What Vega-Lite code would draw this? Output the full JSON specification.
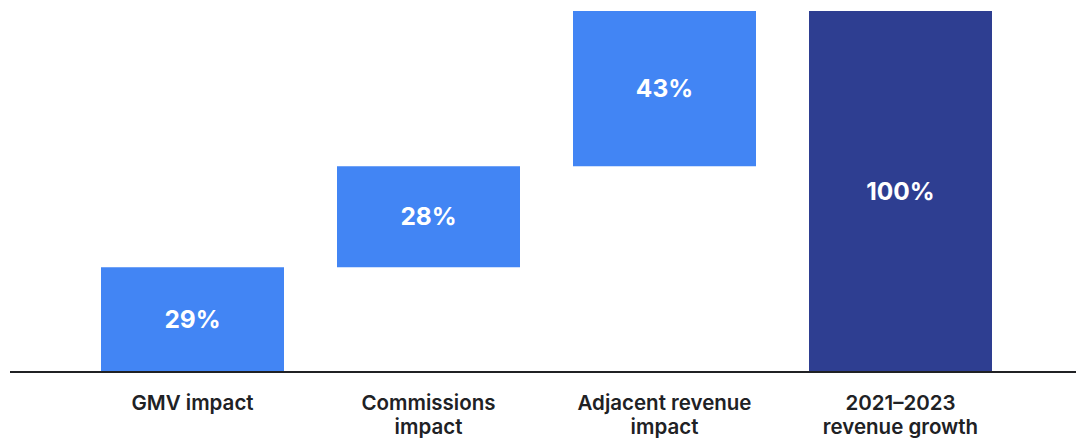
{
  "$schema": "https://vega.github.io/schema/vega-lite/v6.json",
  "autosize": "none",
  "width": 1066,
  "height": 361,
  "padding": {"left": 10, "top": 11, "right": 0, "bottom": 66},
  "background": "white",
  "config": {"view": {"stroke": null}},
  "data": {
    "values": [
      {"category": "GMV impact", "start": 0, "end": 29, "value": "29%", "kind": "change"},
      {"category": "Commissions impact", "start": 29, "end": 57, "value": "28%", "kind": "change"},
      {"category": "Adjacent revenue impact", "start": 57, "end": 100, "value": "43%", "kind": "change"},
      {"category": "2021–2023 revenue growth", "start": 0, "end": 100, "value": "100%", "kind": "total"}
    ]
  },
  "transform": [{"calculate": "(datum.start + datum.end) / 2", "as": "mid"}],
  "layer": [
    {
      "mark": {"type": "bar"},
      "encoding": {
        "x": {
          "field": "category",
          "type": "nominal",
          "sort": null,
          "scale": {"range": [64.5, 1008.5], "paddingInner": 0.2246, "paddingOuter": 0.1123},
          "axis": {
            "title": null,
            "labelAngle": 0,
            "ticks": false,
            "domain": false,
            "labelPadding": 21,
            "labelFont": "Inter",
            "labelFontSize": 20.5,
            "labelFontWeight": 600,
            "labelColor": "#202124",
            "labelLineHeight": 24,
            "labelLimit": 300,
            "labelExpr": "split(datum.label == 'Commissions impact' ? 'Commissions|impact' : datum.label == 'Adjacent revenue impact' ? 'Adjacent revenue|impact' : datum.label == '2021–2023 revenue growth' ? '2021–2023|revenue growth' : datum.label, '|')"
          }
        },
        "y": {"field": "start", "type": "quantitative", "scale": {"domain": [0, 100], "nice": false}, "axis": null},
        "y2": {"field": "end"},
        "color": {
          "field": "kind",
          "type": "nominal",
          "scale": {"domain": ["change", "total"], "range": ["#4285F4", "#2E3E91"]},
          "legend": null
        }
      }
    },
    {
      "mark": {"type": "text", "color": "white", "font": "Inter", "fontSize": 24.5, "fontWeight": "bold", "baseline": "middle", "align": "center", "dy": 1},
      "encoding": {
        "x": {"field": "category", "type": "nominal", "sort": null},
        "y": {"field": "mid", "type": "quantitative"},
        "text": {"field": "value"}
      }
    },
    {
      "mark": {"type": "rule", "color": "#202124", "strokeWidth": 2},
      "encoding": {
        "y": {"datum": 0, "type": "quantitative"}
      }
    }
  ]
}
